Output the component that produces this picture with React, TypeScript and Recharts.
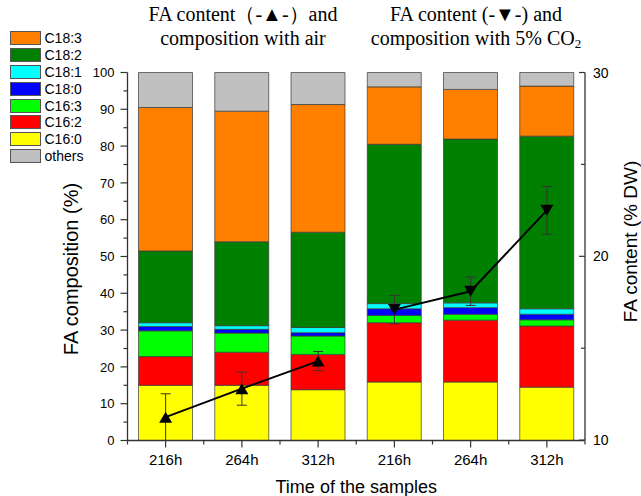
import React from "react";
import { ComposedChart, Bar, Line, XAxis, YAxis, ErrorBar, Legend } from "recharts";

// sampling times, three with air then three with 5% CO2
const TIMES = ["216h", "264h", "312h", "216h", "264h", "312h"];

// fatty acid composition (% of total FA), stacked bottom to top
const C16_0 = [15.0, 15.0, 13.8, 15.9, 15.9, 14.5];
const C16_2 = [7.8, 9.0, 9.6, 16.1, 16.8, 16.6];
const C16_3 = [7.0, 5.2, 5.0, 2.0, 1.6, 1.7];
const C18_0 = [1.2, 1.0, 0.9, 1.8, 1.8, 1.5];
const C18_1 = [1.0, 1.0, 1.4, 1.4, 1.3, 1.5];
const C18_2 = [19.5, 22.8, 25.9, 43.3, 44.5, 46.9];
const C18_3 = [39.0, 35.5, 34.7, 15.6, 13.5, 13.6];
const OTHERS = [9.5, 10.5, 8.7, 3.9, 4.6, 3.7];

// total FA content (% DW) with standard deviation
const AIR_CONTENT = [11.25, 12.8, 14.3, null, null, null];
const AIR_SD = [1.27, 0.9, 0.52, null, null, null];
const CO2_CONTENT = [null, null, null, 17.1, 18.1, 22.5];
const CO2_SD = [null, null, null, 0.77, 0.77, 1.3];

const PCT_TICKS = [0, 5, 10, 15, 20, 25, 30, 35, 40, 45, 50, 55, 60, 65, 70, 75, 80, 85, 90, 95, 100];
const DW_TICKS = [10, 15, 20, 25, 30];

const FATTY_ACIDS = [
  { key: "c160", name: "C16:0", color: "#ffff00", values: C16_0 },
  { key: "c162", name: "C16:2", color: "#ff0000", values: C16_2 },
  { key: "c163", name: "C16:3", color: "#00ff00", values: C16_3 },
  { key: "c180", name: "C18:0", color: "#0000ff", values: C18_0 },
  { key: "c181", name: "C18:1", color: "#00ffff", values: C18_1 },
  { key: "c182", name: "C18:2", color: "#008000", values: C18_2 },
  { key: "c183", name: "C18:3", color: "#ff8000", values: C18_3 },
  { key: "others", name: "others", color: "#c0c0c0", values: OTHERS },
];

const LEGEND_ORDER = ["C18:3", "C18:2", "C18:1", "C18:0", "C16:3", "C16:2", "C16:0", "others"];

const AXIS = "#333";
const SANS = "'Liberation Sans', Arial, sans-serif";
const SERIF = "'Liberation Serif', 'Times New Roman', serif";

const data = TIMES.map((time, i) => {
  const row: Record<string, string | number | null> = {
    time,
    air: AIR_CONTENT[i],
    airSd: AIR_SD[i],
    co2: CO2_CONTENT[i],
    co2Sd: CO2_SD[i],
  };
  FATTY_ACIDS.forEach((fa) => {
    row[fa.key] = fa.values[i];
  });
  return row;
});

function PctTick({ x, y, payload }: any) {
  const major = payload.value % 10 === 0;
  return (
    <g>
      <line x1={x - (major ? 7 : 4)} x2={x} y1={y} y2={y} stroke={AXIS} strokeWidth={1.2} />
      {major && (
        <text x={x - 13} y={y + 4.6} textAnchor="end" fontSize={13} fill="#000">
          {payload.value}
        </text>
      )}
    </g>
  );
}

function DwTick({ x, y, payload }: any) {
  const major = payload.value % 10 === 0;
  return (
    <g>
      <line x1={x - (major ? 6 : 4)} x2={x} y1={y} y2={y} stroke={AXIS} strokeWidth={1.2} />
      {major && (
        <text x={x + 8} y={y + 5} textAnchor="start" fontSize={14} fill="#000">
          {payload.value}
        </text>
      )}
    </g>
  );
}

// category tick plus the short ticks on the band edges
function TimeTick({ x, y, payload, width, visibleTicksCount, index }: any) {
  const half = width / visibleTicksCount / 2;
  const last = index === visibleTicksCount - 1;
  return (
    <g>
      <line x1={x} x2={x} y1={y} y2={y + 7} stroke={AXIS} strokeWidth={1.2} />
      <line x1={x - half} x2={x - half} y1={y} y2={y + 4} stroke={AXIS} strokeWidth={1.2} />
      {last && <line x1={x + half} x2={x + half} y1={y} y2={y + 4} stroke={AXIS} strokeWidth={1.2} />}
      <text x={x} y={y + 24.5} textAnchor="middle" fontSize={15} fill="#000">
        {payload.value}
      </text>
    </g>
  );
}

function Triangle({ cx, cy, down }: any) {
  if (cx == null || cy == null) return null;
  const w = 6.5;
  const h = 5.5;
  const pts = down
    ? `${cx - w},${cy - h} ${cx + w},${cy - h} ${cx},${cy + h}`
    : `${cx - w},${cy + h} ${cx + w},${cy + h} ${cx},${cy - h}`;
  return <polygon points={pts} fill="#000" />;
}

function FattyAcidLegend() {
  return (
    <div style={{ fontFamily: SANS }}>
      {LEGEND_ORDER.map((name) => {
        const fa = FATTY_ACIDS.find((f) => f.name === name)!;
        return (
          <div key={name} style={{ display: "flex", alignItems: "center", height: 16.9 }}>
            <span
              style={{
                display: "inline-block",
                width: 29,
                height: 12,
                background: fa.color,
                border: "1px solid #555",
                marginRight: 3.5,
              }}
            />
            <span style={{ fontSize: 14, color: "#000", lineHeight: "16px" }}>{name}</span>
          </div>
        );
      })}
    </div>
  );
}

const titleStyle = (center: number): React.CSSProperties => ({
  position: "absolute",
  left: center - 130,
  width: 260,
  top: 2,
  textAlign: "center",
  fontFamily: SERIF,
  fontSize: 20,
  lineHeight: "24px",
  color: "#000",
  whiteSpace: "nowrap",
});

export default function App() {
  return (
    <div
      style={{
        position: "absolute",
        left: 0,
        top: 0,
        width: 641,
        height: 496,
        background: "#fff",
        fontFamily: SANS,
      }}
    >
      <ComposedChart
        width={641}
        height={496}
        data={data}
        barSize={54}
        margin={{ top: 72.5, right: 16, bottom: 25.5, left: 67.5 }}
      >
        <XAxis
          dataKey="time"
          height={30}
          interval={0}
          tickLine={false}
          tickSize={0}
          tickMargin={0}
          axisLine={{ stroke: AXIS, strokeWidth: 1.3 }}
          tick={(p: any) => <TimeTick {...p} />}
          label={{ value: "Time of the samples", position: "center", dy: 31, fontSize: 18, fill: "#000" }}
        />
        <YAxis
          yAxisId="pct"
          domain={[0, 100]}
          ticks={PCT_TICKS}
          interval={0}
          width={60}
          tickLine={false}
          tickSize={0}
          tickMargin={0}
          axisLine={{ stroke: AXIS, strokeWidth: 1.3 }}
          tick={(p: any) => <PctTick {...p} />}
          label={{
            value: "FA composition (%)",
            angle: -90,
            position: "center",
            dx: -26.5,
            dy: 12.5,
            fontSize: 20,
            fill: "#000",
          }}
        />
        <YAxis
          yAxisId="dw"
          orientation="right"
          domain={[10, 30]}
          ticks={DW_TICKS}
          interval={0}
          width={40}
          tickLine={false}
          tickSize={0}
          tickMargin={0}
          axisLine={{ stroke: AXIS, strokeWidth: 1.3 }}
          tick={(p: any) => <DwTick {...p} />}
          label={{
            value: "FA content (% DW)",
            angle: -90,
            position: "center",
            dx: 25.5,
            dy: -15,
            fontSize: 19,
            fill: "#000",
          }}
        />
        <Legend
          layout="vertical"
          align="center"
          verticalAlign="middle"
          wrapperStyle={{ left: 10, top: 29.5, width: "auto", height: "auto" }}
          content={() => <FattyAcidLegend />}
        />
        {FATTY_ACIDS.map((fa) => (
          <Bar
            key={fa.key}
            yAxisId="pct"
            dataKey={fa.key}
            name={fa.name}
            stackId="fa"
            fill={fa.color}
            stroke="#3a3a3a"
            strokeWidth={0.7}
            isAnimationActive={false}
          />
        ))}
        <Line
          yAxisId="dw"
          dataKey="air"
          stroke="#000"
          strokeWidth={2}
          isAnimationActive={false}
          dot={(p: any) => <Triangle key={p.index} {...p} />}
          activeDot={false}
        >
          <ErrorBar dataKey="airSd" direction="y" width={5} stroke="#333" strokeWidth={1} />
        </Line>
        <Line
          yAxisId="dw"
          dataKey="co2"
          stroke="#000"
          strokeWidth={2}
          isAnimationActive={false}
          dot={(p: any) => <Triangle key={p.index} {...p} down />}
          activeDot={false}
        >
          <ErrorBar dataKey="co2Sd" direction="y" width={5} stroke="#333" strokeWidth={1} />
        </Line>
      </ComposedChart>
      <div style={titleStyle(243)}>
        FA content（-▲-）and
        <br />
        composition with air
      </div>
      <div style={titleStyle(476)}>
        FA content (-▼-) and
        <br />
        composition with 5% CO
        <sub style={{ fontSize: 13, lineHeight: 0, verticalAlign: "-3px" }}>2</sub>
      </div>
    </div>
  );
}
